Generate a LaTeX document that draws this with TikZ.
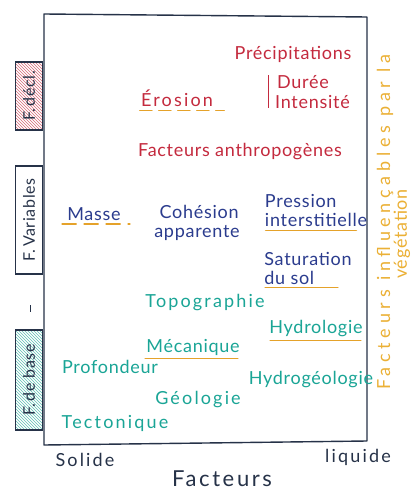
\documentclass[tikz,border=0pt]{standalone}
\usepackage{fontspec}
\setmainfont{Lato}
\newfontfamily\handA[LetterSpace=4]{Lato}
\newfontfamily\handB[LetterSpace=12]{Lato}
\newfontfamily\handC[LetterSpace=26]{Lato}
\usetikzlibrary{patterns}
\definecolor{cred}{HTML}{C42A3E}
\definecolor{cblue}{HTML}{2B3C8E}
\definecolor{cteal}{HTML}{1AA596}
\definecolor{corange}{HTML}{E5A22A}
\definecolor{cyell}{HTML}{EBB035}
\definecolor{cdark}{HTML}{263248}
\tikzset{
  txt/.style={inner sep=1pt, font=\handA\fontsize{18}{19}\selectfont},
  wide/.style={font=\handB\fontsize{18}{19}\selectfont},
  redt/.style={txt, text=cred},
  bluet/.style={txt, text=cblue},
  tealt/.style={txt, text=cteal},
  darkt/.style={txt, text=cdark},
  frame/.style={draw=cdark, line width=1.4pt, line join=round},
  sidebox/.style={draw=cdark, line width=1.1pt, minimum width=68pt, minimum height=27pt, rotate=90, inner sep=1pt, font=\handA\fontsize{16}{17}\selectfont, text=cdark},
  uline/.style={draw=corange, line width=1.6pt, line cap=round},
  dashu/.style={uline, dash pattern=on 12pt off 7pt},
}
\begin{document}
\begin{tikzpicture}[x=1pt,y=-1pt]
\useasboundingbox (0,0) rectangle (413,492);
\fill[white] (0,0) rectangle (413,492);
% main frame
\draw[frame] (44,14) -- (367,17) -- (367,441) -- (44,445) -- cycle;
% side boxes
\node[sidebox, minimum width=68pt, pattern=north west lines, pattern color=cred!70] (fdecl) at (29,96) {F.\,décl.};
\node[sidebox, minimum width=108pt] (fvar) at (29,220) {F.\,Variables};
\node[sidebox, minimum width=100pt, pattern=north west lines, pattern color=cteal!70] (fbase) at (29,380) {F.\,de base};
\coordinate (tickA) at (30,305);
\coordinate (tickB) at (30,312);
\draw[cdark, line width=1pt] (tickA) -- (tickB);
% red texts
\node[redt] (precip) at (293,54) {Précipitations};
\node[redt, anchor=west] (duree) at (276,82) {Durée};
\node[redt, anchor=west] (intens) at (274,102) {Intensité};
\draw[cred, line width=1pt] ([xshift=-8pt,yshift=-1pt]duree.north west) -- ([xshift=-6pt,yshift=2pt]intens.south west);
\node[redt, wide] (erosion) at (177,98) {Érosion};
\draw[dashu] ([yshift=-3pt]erosion.south west) -- ([xshift=10pt,yshift=-3pt]erosion.south east);
\node[redt] (anthro) at (240,152) {Facteurs anthropogènes};
% blue texts
\node[bluet] (masse) at (94,214) {Masse};
\draw[dashu, dash pattern=on 14pt off 8pt] ([xshift=-4pt,yshift=-2pt]masse.south west) -- ([xshift=8pt,yshift=-2pt]masse.south east);
\node[bluet, align=left] (cohesion) at (197,223) {\ Cohésion\\apparente};
\node[bluet, align=left] (pression) at (316,211) {Pression\\interstitielle};
\draw[uline] ([xshift=2pt,yshift=-2pt]pression.south west) -- ([xshift=-12pt,yshift=-2pt]pression.south east);
\node[bluet, align=left] (satur) at (308,268) {Saturation\\du sol};
\draw[uline] ([xshift=2pt,yshift=-2pt]satur.south west) -- ([xshift=-15pt,yshift=-2pt]satur.south east);
% teal texts
\node[tealt, wide] (topo) at (205,303) {Topographie};
\node[tealt] (hydro) at (316,329) {Hydrologie};
\draw[uline] ([xshift=2pt,yshift=-2pt]hydro.south west) -- ([xshift=-3pt,yshift=-2pt]hydro.south east);
\node[tealt] (meca) at (193,347) {Mécanique};
\draw[uline] ([xshift=0pt,yshift=-2pt]meca.south west) -- ([xshift=-3pt,yshift=-2pt]meca.south east);
\node[tealt] (prof) at (110,367) {Profondeur};
\node[tealt] (hydrogeo) at (311,380) {Hydrogéologie};
\node[tealt, wide] (geol) at (198,400) {Géologie};
\node[tealt, wide] (tecto) at (115,423) {Tectonique};
% bottom
\node[darkt, wide] (solide) at (85,460) {Solide};
\node[darkt, wide] (liquide) at (358,457) {liquide};
\node[darkt, font=\handB\fontsize{22}{23}\selectfont] (facteurs) at (222,479) {Facteurs};
% right side
\node[txt, text=cyell, rotate=90, font=\handC\fontsize{18}{19}\selectfont] (veg1) at (385,222) {Facteurs influençables par la};
\node[txt, text=cyell, rotate=90, font=\handA\fontsize{18}{19}\selectfont] (veg2) at (402,234) {végétation};
\end{tikzpicture}
\end{document}
